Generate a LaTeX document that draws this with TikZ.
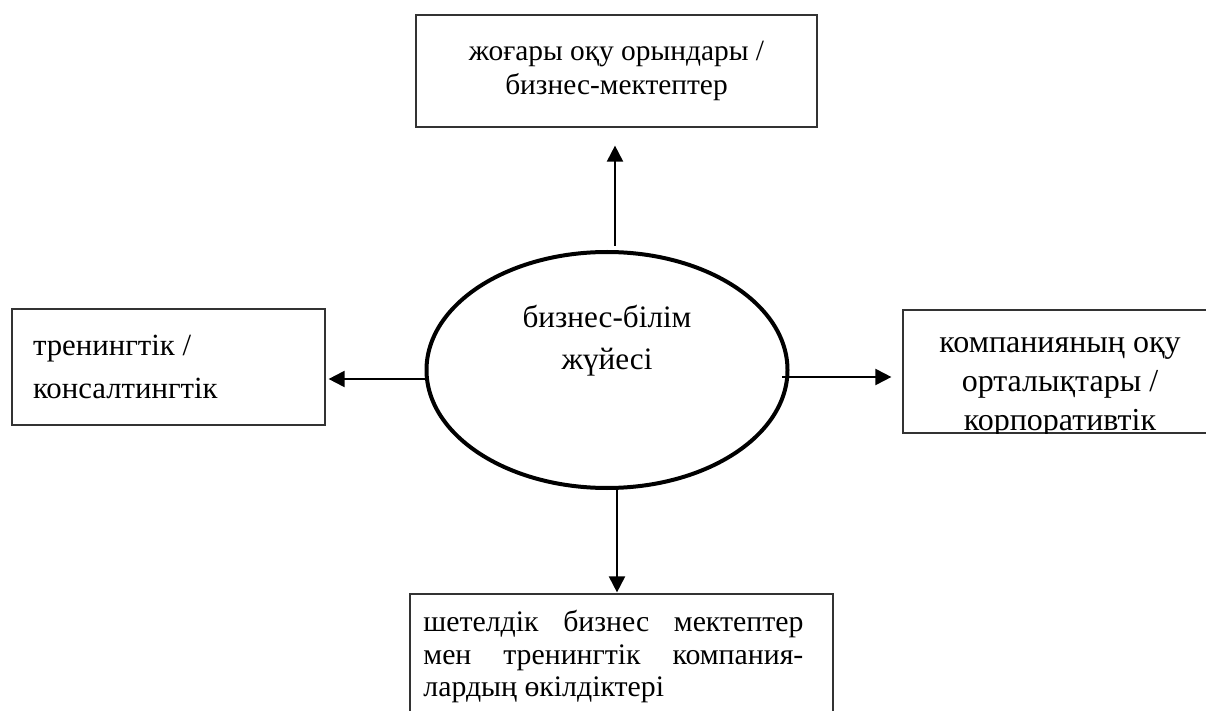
\documentclass[tikz,border=0pt]{standalone}
\usepackage{fontspec}
\setmainfont{Liberation Serif}
\usetikzlibrary{shapes.geometric,arrows.meta}

\tikzset{
  blok/.style={draw=black!80, line width=0.6pt, inner sep=0pt, align=center,
    font=\fontsize{14.7}{17}\selectfont},
  oval/.style={ellipse, draw, line width=2pt, inner sep=0pt,
    minimum width=180.5pt, minimum height=118pt},
  strelka/.style={-{Triangle[length=8pt,width=8pt]}, line width=1pt}
}

\begin{document}
\begin{tikzpicture}[x=0.5pt,y=-0.5pt]
    \clip (0,0) rectangle (1206,711);
    % centre
    \node[oval] (sys) at (607,370) {};
    \node[font=\fontsize{15.6}{21}\selectfont, align=center, inner sep=0pt] (syst) at (607,341) {бизнес-білім\\жүйесі};
    % boxes
    \node[blok, minimum width=200.5pt, minimum height=56pt] (vuz) at (616.5,71) {жоғары оқу орындары /\\бизнес-мектептер};
    \node[blok, minimum height=58pt, text width=135.5pt, inner xsep=10.5pt, align=flush left,
      font=\fontsize{15.4}{21.5}\selectfont] (tren) at (168.5,367) {тренингтік /\\консалтингтік};
    \node[blok, minimum width=158pt, minimum height=61.5pt] (korp) at (1061,371.5) {};
    \begin{scope}
      \clip (korp.south west) rectangle (korp.north east);
      \node[font=\fontsize{16}{19.5}\selectfont, align=center, inner sep=0pt] (korpt) at (1060,387) {компанияның оқу\\орталықтары /\\корпоративтік};
    \end{scope}
    \node[blok, minimum width=211.5pt, minimum height=73pt] (shet) at (621.5,667) {};
    \node[anchor=north west, text width=190pt, align=flush left, inner sep=0pt,
      font=\fontsize{14.9}{16.25}\selectfont] (shett) at (423,610)
      {шетелдік\hfill бизнес\hfill мектептер\\мен\hfill тренингтік\hfill компания-\\лардың өкілдіктері};
    % arrows
    \draw[strelka, shorten >=9pt] ([xshift=4pt,yshift=2pt]sys.north) -- ([xshift=4pt]sys.north |- vuz.south);
    \draw[strelka, shorten >=1.5pt] ([yshift=-4.5pt]sys.west) -- ([yshift=-4.5pt]sys.west -| tren.east);
    \draw[strelka, shorten >=5.5pt] ([xshift=-3.75pt,yshift=-3.5pt]sys.east) -- ([yshift=-3.5pt]sys.east -| korp.west);
    \draw[strelka, shorten >=0.5pt] ([xshift=5pt]sys.south) -- ([xshift=5pt]sys.south |- shet.north);
\end{tikzpicture}
\end{document}
